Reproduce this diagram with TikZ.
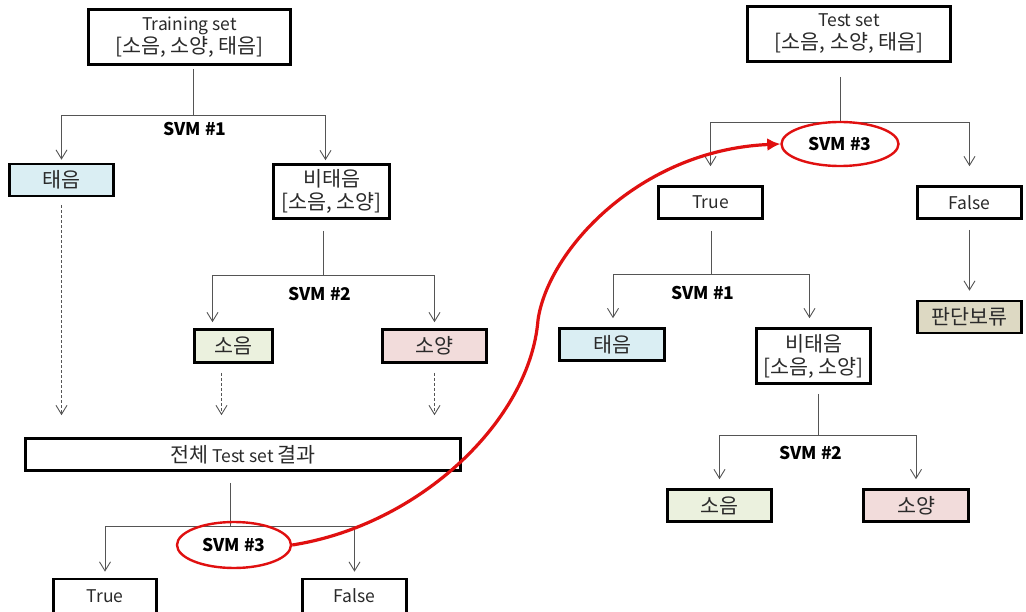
\documentclass[tikz,border=0pt]{standalone}
\usepackage{fontspec}
\setmainfont{Noto Sans CJK KR}
\newfontfamily\krf[Scale=1.18]{Noto Sans CJK KR}
\newcommand\kr[1]{{\krf #1}}
\usetikzlibrary{arrows.meta,shapes.geometric}
\definecolor{boxblue}{HTML}{DAEEF3}
\definecolor{boxgreen}{HTML}{EBF1DE}
\definecolor{boxpink}{HTML}{F2DCDB}
\definecolor{boxtan}{HTML}{DDD9C3}
\definecolor{txt}{HTML}{2A2A2A}
\definecolor{lnc}{HTML}{555555}
\definecolor{myred}{HTML}{E01010}
\tikzset{
  box/.style={draw=black, line width=2.6pt, inner sep=0pt, align=center, text=txt,
     font=\fontsize{17.5}{23}\selectfont},
  ln/.style={draw=lnc, line width=0.9pt},
  arr/.style={ln, -{Straight Barb[length=9pt,width=11pt,line width=0.9pt]}},
  dsh/.style={arr, dash pattern=on 3pt off 2pt},
  lbl/.style={font=\fontsize{17.5}{20}\selectfont\bfseries, text=black, inner sep=1pt},
  oval/.style={ellipse, draw=myred, line width=2.4pt, inner sep=0pt,
     font=\fontsize{17.5}{20}\selectfont\bfseries, text=black},
  redarr/.style={draw=myred, line width=3.2pt, -{Latex[length=13pt,width=13pt]}}
}
\begin{document}
\begin{tikzpicture}[x=1pt,y=-1pt]
\useasboundingbox[fill=white] (0,0) rectangle (1026,612);
% ---------------- left tree ----------------
\node[box, minimum width=202pt, minimum height=55pt] (ts) at (189.5,37) {Training set\\[0pt]\kr{[소음, 소양, 태음]}};
\node[box, minimum width=104pt, minimum height=32pt, fill=boxblue] (t1) at (61.5,180) {\kr{태음}};
\node[box, minimum width=116pt, minimum height=54pt] (nt1) at (331.5,191.5) {\kr{비태음}\\[0pt]\kr{[소음, 소양]}};
\node[box, minimum width=78pt, minimum height=33pt, fill=boxgreen] (s1) at (233.5,346) {\kr{소음}};
\node[box, minimum width=104pt, minimum height=33pt, fill=boxpink] (y1) at (434.5,346) {\kr{소양}};
\node[box, minimum width=435pt, minimum height=32pt] (all) at (243,454.5) {\kr{전체} Test set \kr{결과}};
\node[box, minimum width=103pt, minimum height=34pt] (tr1) at (105,596) {True};
\node[box, minimum width=104pt, minimum height=34pt] (f1) at (354.5,596) {False};

\coordinate (b1) at (193,115);
\draw[ln] (ts.south -| b1) ++(0,3) -- (b1);
\draw[arr] (b1) -| ([yshift=3pt]t1.north);
\draw[arr] (b1) -| ([xshift=-6pt,yshift=3pt]nt1.north);
\node[lbl] (l1) at (195,129) {SVM \#1};

\coordinate (b2) at (323,275);
\draw[ln] (nt1.south -| b2) ++(0,11) -- (b2);
\draw[arr] (b2) -| ([xshift=-21pt,yshift=6pt]s1.north);
\draw[arr] (b2) -| ([yshift=6pt]y1.north);
\node[lbl] (l2) at (320,294) {SVM \#2};

\draw[dsh] ([yshift=-8pt]t1.south) -- ([yshift=22pt]t1.south |- all.north);
\draw[dsh] ([xshift=-12pt,yshift=-9pt]s1.south) -- ([xshift=-12pt,yshift=22pt]s1.south |- all.north);
\draw[dsh] ([yshift=-9pt]y1.south) -- ([yshift=22pt]y1.south |- all.north);

\coordinate (b3) at (230,526);
\draw[ln] (all.south -| b3) ++(0,11) -- (b3);
\draw[arr] (b3) -| ([yshift=6pt]tr1.north);
\draw[arr] (b3) -| ([yshift=6pt]f1.north);
\node[oval, minimum width=114pt, minimum height=46pt] (e1) at (234,545) {SVM \#3};

% ---------------- right tree ----------------
\node[box, minimum width=203pt, minimum height=55pt] (ts2) at (849,34) {Test set\\[0pt]\kr{[소음, 소양, 태음]}};
\node[box, minimum width=104pt, minimum height=32pt] (tr2) at (710.5,202.5) {True};
\node[box, minimum width=104pt, minimum height=32pt] (f2) at (969.5,202.5) {False};
\node[box, minimum width=104pt, minimum height=32pt, fill=boxtan] (pd) at (969.5,317) {\kr{판단보류}};
\node[box, minimum width=105pt, minimum height=32pt, fill=boxblue] (t2) at (612,344.5) {\kr{태음}};
\node[box, minimum width=114pt, minimum height=55pt] (nt2) at (813.5,356) {\kr{비태음}\\[0pt]\kr{[소음, 소양]}};
\node[box, minimum width=104pt, minimum height=32pt, fill=boxgreen] (s2) at (719.5,505.5) {\kr{소음}};
\node[box, minimum width=105pt, minimum height=32pt, fill=boxpink] (y2) at (916,505.5) {\kr{소양}};

\coordinate (b4) at (840,122);
\draw[ln] (ts2.south -| b4) ++(0,14) -- (b4);
\draw[arr] (b4) -| ([yshift=19pt]tr2.north);
\draw[arr] (b4) -| ([yshift=19pt]f2.north);
\node[oval, minimum width=117pt, minimum height=44pt] (e2) at (840,144) {SVM \#3};

\draw[arr] ([yshift=-10pt]f2.south) -- ([yshift=9pt]pd.north);

\coordinate (b5) at (711,274);
\draw[ln] (tr2.south -| b5) ++(0,11) -- (b5);
\draw[arr] (b5) -| ([xshift=1pt,yshift=9pt]t2.north);
\draw[arr] (b5) -| ([xshift=-4pt,yshift=9pt]nt2.north);
\node[lbl] (l3) at (703,293) {SVM \#1};

\coordinate (b6) at (818,435);
\draw[ln] (nt2.south -| b6) ++(0,9) -- (b6);
\draw[arr] (b6) -| ([yshift=9pt]s2.north);
\draw[arr] (b6) -| ([yshift=9pt]y2.north);
\node[lbl] (l4) at (811,453) {SVM \#2};

% ---------------- red link ----------------
\draw[redarr] (e1.east) .. controls (420,525) and (530,420) .. (538,320)
   .. controls (548,250) and (640,150) .. (e2.west);
\end{tikzpicture}
\end{document}
